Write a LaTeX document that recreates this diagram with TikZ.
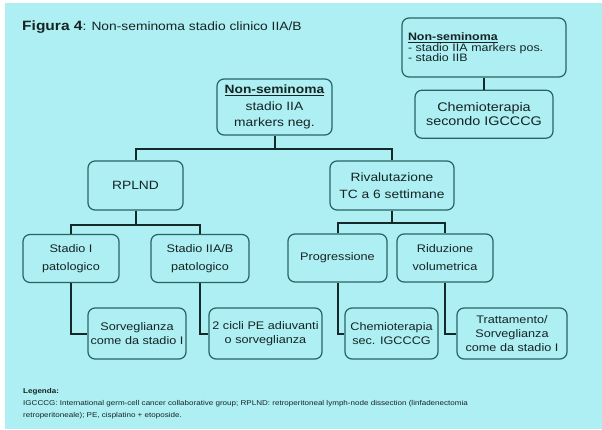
\documentclass[tikz,border=0pt]{standalone}
\usepackage{fontspec}
\setmainfont{Liberation Sans}[FakeStretch=1.15]
\usetikzlibrary{positioning}

\definecolor{bgcyan}{RGB}{173,239,242}
\definecolor{boxline}{RGB}{40,100,100}
\definecolor{linkcol}{RGB}{20,42,42}
\definecolor{ink}{RGB}{22,36,36}

\begin{document}
\begin{tikzpicture}[
    x=1pt, y=-1pt,
    node distance=12pt,
    box/.style  = {rectangle, rounded corners=7pt, draw=boxline, line width=1.2pt, fill=bgcyan, text=ink, align=center, inner sep=2pt, font=\fontsize{11}{14}\selectfont},
    upper/.style = {box, font=\fontsize{12}{16.5}\selectfont},
    leaf/.style = {box, minimum height=51pt},
    link/.style = {draw=linkcol, line width=2pt}
]

% --- Sfondo ---
\useasboundingbox (0,0) rectangle (602,429);
\fill[white] (0,0) rectangle (602,429);
\fill[bgcyan] (5,3) rectangle (602,429);

% --- Titolo ---
\node[anchor=base west, inner sep=0, text=ink] (title) at (22,30) {\fontsize{13.5}{16}\selectfont\bfseries Figura 4\fontsize{12}{14}\selectfont\mdseries: Non-seminoma stadio clinico IIA/B};

% --- Markers positivi ---
\node[box, text width=152pt, inner xsep=6pt, minimum height=59pt, align=left, font=\fontsize{10.8}{10.5}\selectfont] (poscase) at (484,47.5) {\underline{\textbf{Non-seminoma}}\\- stadio IIA markers pos.\\- stadio IIB};
\node[box, below=of poscase, minimum width=138pt, minimum height=48pt, font=\fontsize{12.5}{14}\selectfont] (chemotop) {Chemioterapia\\secondo IGCCCG};

% --- Markers negativi ---
\node[upper, minimum width=115pt, minimum height=56pt] (negcase) at (274.5,107) {\underline{\textbf{Non-seminoma}}\\stadio IIA\\markers neg.};
\node[upper, minimum width=95pt, minimum height=49pt] (rplnd) at (135.5,185.5) {RPLND};
\node[upper, minimum width=124pt, minimum height=49pt] (rival) at (392,185.5) {Rivalutazione\\TC a 6 settimane};

% --- Esiti ---
\node[box, minimum width=96pt, minimum height=48pt, font=\fontsize{11}{17.5}\selectfont] (stad1) at (71,258.5) {Stadio I\\patologico};
\node[box, minimum width=98pt, minimum height=48pt, font=\fontsize{11}{17.5}\selectfont] (stad2) at (200,258.5) {Stadio IIA/B\\patologico};
\node[box, minimum width=99pt, minimum height=48pt] (progr) at (337.5,258) {Progressione};
\node[box, minimum width=96pt, minimum height=48pt, font=\fontsize{11}{18}\selectfont] (riduz) at (445,258) {Riduzione\\volumetrica};

% --- Trattamenti ---
\node[leaf, minimum width=98pt] (sorv1) at (137,333.5) {Sorveglianza\\come da stadio I};
\node[leaf, minimum width=113pt, inner xsep=1pt] (cicli) at (265.5,333.5) {2 cicli PE adiuvanti\\o sorveglianza};
\node[leaf, minimum width=93pt] (chemsec) at (391.5,333.5) {Chemioterapia\\sec. IGCCCG};
\node[leaf, minimum width=110pt] (tratt) at (512,333.5) {Trattamento/\\Sorveglianza\\come da stadio I};

% --- Legenda ---
\node[anchor=north west, inner sep=0, align=left, text=ink, font=\fontsize{7}{12}\selectfont] (legend) at (23,388.5) {\textbf{Legenda:}\\IGCCCG: International germ-cell cancer collaborative group; RPLND: retroperitoneal lymph-node dissection (linfadenectomia\\retroperitoneale); PE, cisplatino + etoposide.};

% --- Collegamenti ---
\draw[link] (poscase) -- (chemotop);
\draw[link] (negcase.south) -- ++(0,13) coordinate (split1);
\draw[link] (rplnd.north) |- (split1) -| (rival.north);
\draw[link] (rplnd.south) -- ++(0,14) coordinate (split2);
\draw[link] (stad1.north) |- (split2) -| (stad2.north);
\draw[link] (rival.south) -- ++(0,12) coordinate (split3);
\draw[link] (progr.north) |- (split3) -| (riduz.north);
\draw[link] (stad1.south) |- (sorv1.west);
\draw[link] (stad2.south) |- (cicli.west);
\draw[link] (progr.south) |- (chemsec.west);
\draw[link] (riduz.south) |- (tratt.west);

\end{tikzpicture}
\end{document}
